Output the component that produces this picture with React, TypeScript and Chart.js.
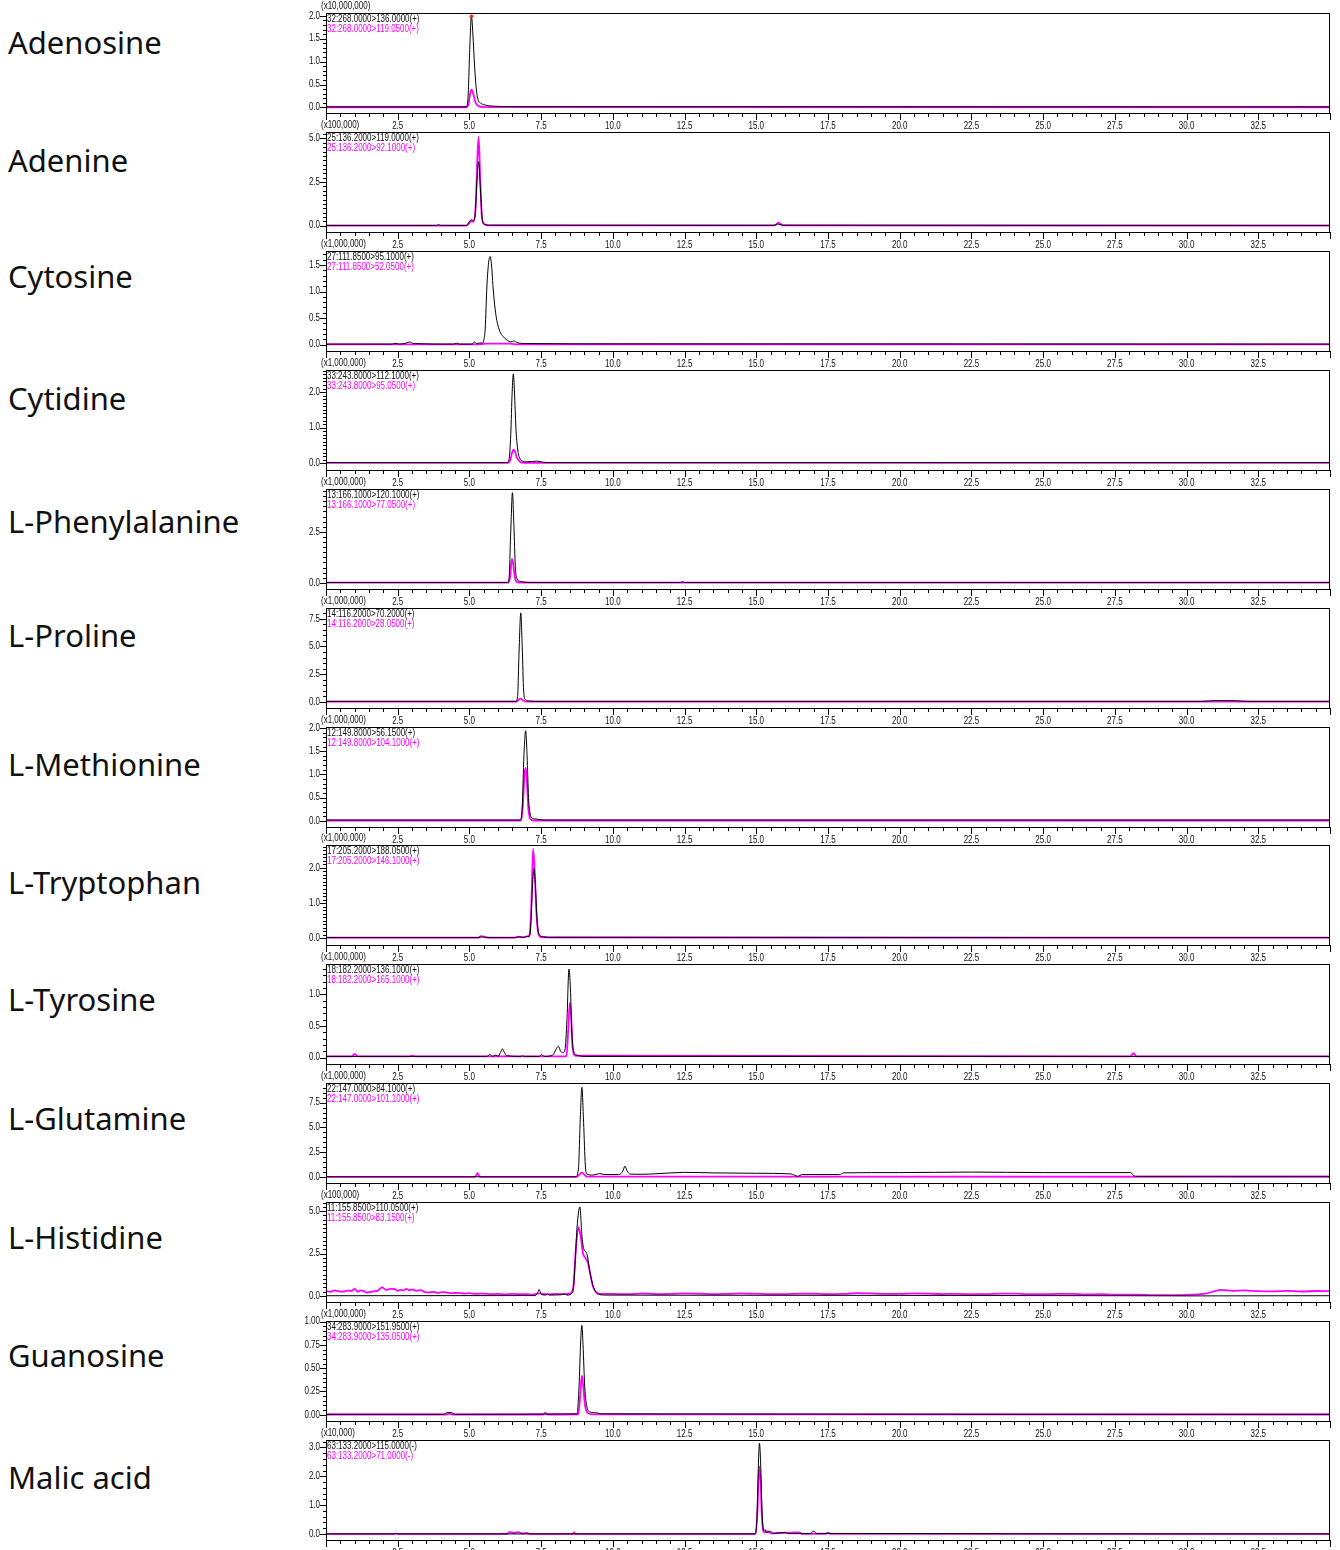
import React, { useEffect, useRef } from 'react';
import { Chart, registerables } from 'chart.js';

Chart.register(...registerables);

type P = [number, number];

// ---------- labels ----------
const compoundNames = [
  'Adenosine', 'Adenine', 'Cytosine', 'Cytidine', 'L-Phenylalanine', 'L-Proline', 'L-Methionine',
  'L-Tryptophan', 'L-Tyrosine', 'L-Glutamine', 'L-Histidine', 'Guanosine', 'Malic acid',
];
const multiplierLabels = [
  '(x10,000,000)', '(x100,000)', '(x1,000,000)', '(x1,000,000)', '(x1,000,000)', '(x1,000,000)',
  '(x1,000,000)', '(x1,000,000)', '(x1,000,000)', '(x1,000,000)', '(x100,000)', '(x1,000,000)', '(x10,000)',
];
const blackChannelLabels = [
  '32:268.0000>136.0000(+)', '25:136.2000>119.0000(+)', '27:111.8500>95.1000(+)', '33:243.8000>112.1000(+)',
  '13:166.1000>120.1000(+)', '14:116.2000>70.2000(+)', '12:149.8000>56.1500(+)', '17:205.2000>188.0500(+)',
  '18:182.2000>136.1000(+)', '22:147.0000>84.1000(+)', '11:155.8500>110.0500(+)', '34:283.9000>151.9500(+)',
  '63:133.2000>115.0000(-)',
];
const magentaChannelLabels = [
  '32:268.0000>119.0500(+)', '25:136.2000>92.1000(+)', '27:111.8500>52.0500(+)', '33:243.8000>95.0500(+)',
  '13:166.1000>77.0500(+)', '14:116.2000>28.0500(+)', '12:149.8000>104.1000(+)', '17:205.2000>146.1000(+)',
  '18:182.2000>165.1000(+)', '22:147.0000>101.1000(+)', '11:155.8500>83.1500(+)', '34:283.9000>135.0500(+)',
  '63:133.2000>71.0000(-)',
];

// ---------- axes ----------
const xMin = 0;
const xMax = 35;
const xMinorStep = 0.5;
const xMajorStep = 2.5;
const yMaxes = [2.06, 5.37, 1.764, 2.62, 4.6, 8.47, 2.02, 2.65, 1.48, 9.48, 5.54, 1.007, 3.26];
const yMins = [-0.12, -0.36, -0.12, -0.19, -0.3, -0.55, -0.13, -0.19, -0.1, -0.6, -0.36, -0.067, -0.21];
const yMajorSteps = [0.5, 2.5, 0.5, 1.0, 2.5, 2.5, 0.5, 1.0, 0.5, 2.5, 2.5, 0.25, 1.0];
const yMinorSteps = [0.1, 0.25, 0.1, 0.1, 0.25, 0.5, 0.1, 0.1, 0.1, 0.5, 0.25, 0.05, 0.2];
const yDecimals = [1, 1, 1, 1, 1, 1, 1, 1, 1, 1, 1, 2, 1];

// ---------- series (time [min], intensity in panel units) ----------
const adenosineBlack: P[] = [[0, 0.015], [4.88, 0.015], [4.95, 0.2], [5.01, 1.26], [5.07, 2.0], [5.12, 1.6], [5.18, 0.9], [5.24, 0.4], [5.3, 0.17], [5.4, 0.09], [5.5, 0.06], [5.8, 0.03], [6.5, 0.02], [35, 0.015]];
const adenosineMagenta: P[] = [[0, 0.005], [4.9, 0.005], [4.97, 0.08], [5.03, 0.32], [5.08, 0.39], [5.14, 0.28], [5.22, 0.1], [5.32, 0.03], [5.5, 0.01], [35, 0.005]];
const adenosinePeakMark: P[] = [[5.07, 1.99]];

const adenineBlack: P[] = [[0, 0.02], [3.85, 0.02], [3.92, 0.06], [4.0, 0.02], [4.9, 0.02], [4.98, 0.2], [5.06, 0.34], [5.14, 0.3], [5.2, 0.6], [5.26, 2.5], [5.32, 3.66], [5.38, 2.2], [5.44, 0.5], [5.52, 0.1], [5.7, 0.03], [15.6, 0.02], [15.75, 0.1], [15.9, 0.03], [35, 0.02]];
const adenineMagenta: P[] = [[0, 0.01], [4.9, 0.01], [5.0, 0.15], [5.06, 0.28], [5.14, 0.22], [5.22, 1.2], [5.28, 4.0], [5.32, 5.09], [5.37, 3.0], [5.43, 0.6], [5.5, 0.1], [5.7, 0.02], [15.65, 0.02], [15.78, 0.18], [15.92, 0.02], [35, 0.01]];

const cytosineBlack: P[] = [[0, 0.01], [2.3, 0.01], [2.4, 0.025], [2.55, 0.01], [2.8, 0.03], [2.92, 0.05], [3.05, 0.02], [4.45, 0.01], [4.55, 0.025], [4.65, 0.01], [5.1, 0.01], [5.17, 0.05], [5.25, 0.02], [5.35, 0.03], [5.45, 0.03], [5.5, 0.08], [5.55, 0.3], [5.61, 1.11], [5.67, 1.55], [5.72, 1.66], [5.77, 1.5], [5.82, 1.11], [5.88, 0.75], [5.94, 0.5], [6.06, 0.25], [6.18, 0.15], [6.3, 0.09], [6.45, 0.05], [6.55, 0.07], [6.65, 0.04], [7.0, 0.02], [10, 0.015], [35, 0.01]];
const cytosineMagenta: P[] = [[0, 0.005], [5.4, 0.005], [5.55, 0.02], [6.4, 0.02], [6.6, 0.005], [35, 0.005]];

const cytidineBlack: P[] = [[0, 0.02], [6.3, 0.02], [6.38, 0.1], [6.44, 0.8], [6.49, 2.0], [6.53, 2.51], [6.57, 2.0], [6.62, 1.0], [6.68, 0.4], [6.75, 0.15], [6.85, 0.06], [7.0, 0.04], [7.2, 0.05], [7.35, 0.06], [7.5, 0.04], [7.7, 0.02], [35, 0.02]];
const cytidineMagenta: P[] = [[0, 0.01], [6.35, 0.01], [6.42, 0.08], [6.48, 0.28], [6.54, 0.38], [6.6, 0.3], [6.66, 0.15], [6.75, 0.05], [6.9, 0.01], [35, 0.01]];

const phenylalanineBlack: P[] = [[0, 0.02], [6.32, 0.02], [6.38, 0.2], [6.44, 2.5], [6.5, 4.42], [6.55, 2.8], [6.6, 0.8], [6.66, 0.2], [6.75, 0.08], [6.9, 0.04], [7.2, 0.02], [12.35, 0.02], [12.42, 0.06], [12.5, 0.02], [35, 0.02]];
const phenylalanineMagenta: P[] = [[0, 0.01], [6.35, 0.01], [6.42, 0.3], [6.48, 1.17], [6.52, 1.0], [6.58, 0.3], [6.65, 0.05], [6.8, 0.01], [35, 0.01]];

const prolineBlack: P[] = [[0, 0.05], [6.62, 0.05], [6.68, 0.5], [6.73, 4.5], [6.79, 8.03], [6.84, 5.0], [6.89, 1.0], [6.95, 0.2], [7.1, 0.08], [7.5, 0.05], [30.5, 0.05], [31.0, 0.12], [31.8, 0.1], [32.2, 0.05], [35, 0.05]];
const prolineMagenta: P[] = [[0, 0.03], [6.65, 0.03], [6.72, 0.2], [6.79, 0.3], [6.86, 0.15], [6.95, 0.03], [35, 0.03]];

const methionineBlack: P[] = [[0, 0.02], [6.78, 0.02], [6.84, 0.3], [6.9, 1.4], [6.96, 1.94], [7.01, 1.4], [7.06, 0.5], [7.12, 0.15], [7.2, 0.06], [7.35, 0.04], [7.6, 0.02], [35, 0.02]];
const methionineMagenta: P[] = [[0, 0.01], [6.8, 0.01], [6.86, 0.3], [6.92, 1.0], [6.96, 1.14], [7.0, 0.9], [7.05, 0.3], [7.12, 0.05], [7.25, 0.01], [35, 0.01]];

const tryptophanBlack: P[] = [[0, 0.02], [5.3, 0.02], [5.45, 0.04], [5.6, 0.02], [6.6, 0.02], [6.75, 0.04], [6.9, 0.02], [7.0, 0.06], [7.08, 0.04], [7.14, 0.4], [7.2, 1.5], [7.25, 1.98], [7.3, 1.5], [7.36, 0.5], [7.42, 0.12], [7.55, 0.05], [7.8, 0.02], [35, 0.02]];
const tryptophanMagenta: P[] = [[0, 0.02], [5.3, 0.02], [5.4, 0.06], [5.55, 0.04], [5.65, 0.02], [6.6, 0.02], [6.7, 0.05], [6.85, 0.03], [7.0, 0.05], [7.1, 0.1], [7.16, 1.0], [7.22, 2.54], [7.27, 2.0], [7.33, 0.8], [7.4, 0.15], [7.5, 0.03], [35, 0.02]];

const tyrosineBlack: P[] = [[0, 0.02], [5.6, 0.02], [5.72, 0.05], [5.8, 0.02], [5.92, 0.04], [6.0, 0.02], [6.08, 0.08], [6.15, 0.14], [6.22, 0.08], [6.3, 0.03], [6.8, 0.02], [6.85, 0.03], [6.9, 0.02], [7.45, 0.02], [7.52, 0.05], [7.6, 0.02], [7.9, 0.04], [8.02, 0.13], [8.1, 0.18], [8.18, 0.1], [8.26, 0.08], [8.33, 0.12], [8.4, 0.6], [8.47, 1.4], [8.52, 1.1], [8.57, 0.4], [8.63, 0.1], [8.75, 0.04], [9.0, 0.02], [35, 0.02]];
const tyrosineMagenta: P[] = [[0, 0.02], [0.9, 0.02], [1.0, 0.06], [1.1, 0.02], [2.9, 0.02], [3.0, 0.03], [3.15, 0.02], [8.38, 0.02], [8.44, 0.4], [8.5, 0.87], [8.55, 0.6], [8.6, 0.15], [8.7, 0.03], [28.05, 0.02], [28.15, 0.07], [28.25, 0.02], [35, 0.02]];

const glutamineBlack: P[] = [[0, 0.03], [8.7, 0.03], [8.8, 0.8], [8.86, 5.5], [8.92, 9.05], [8.98, 5.5], [9.04, 1.2], [9.1, 0.3], [9.3, 0.2], [9.45, 0.3], [9.55, 0.35], [9.7, 0.25], [10.2, 0.25], [10.35, 0.6], [10.42, 1.1], [10.5, 0.6], [10.6, 0.3], [11, 0.28], [11.5, 0.33], [12.5, 0.47], [13.5, 0.42], [15, 0.38], [16.2, 0.32], [16.45, 0.07], [16.6, 0.25], [17.9, 0.25], [18.05, 0.42], [20, 0.45], [22.5, 0.5], [25, 0.45], [28.05, 0.45], [28.2, 0.07], [35, 0.07]];
const glutamineMagenta: P[] = [[0, 0.02], [5.2, 0.02], [5.28, 0.4], [5.36, 0.02], [8.75, 0.02], [8.85, 0.3], [8.92, 0.45], [9.0, 0.25], [9.1, 0.04], [35, 0.03]];

const histidineBlack: P[] = [[0, 0.01], [7.3, 0.02], [7.38, 0.2], [7.43, 0.38], [7.5, 0.1], [7.65, 0.05], [7.72, 0.12], [7.8, 0.05], [8.2, 0.07], [8.3, 0.12], [8.4, 0.05], [8.6, 0.2], [8.67, 1.5], [8.75, 4.0], [8.85, 5.25], [8.92, 3.6], [8.98, 2.8], [9.06, 2.6], [9.12, 2.3], [9.19, 1.5], [9.25, 1.0], [9.31, 0.58], [9.4, 0.25], [9.5, 0.1], [9.7, 0.05], [12, 0.04], [20, 0.03], [28, 0.01], [30, 0.0], [35, 0.01]];
const histidineMagenta: P[] = [[0, 0.28], [0.15, 0.24], [0.3, 0.32], [0.45, 0.27], [0.6, 0.25], [0.75, 0.31], [0.9, 0.3], [1.0, 0.42], [1.1, 0.25], [1.2, 0.33], [1.3, 0.3], [1.4, 0.2], [1.5, 0.22], [1.65, 0.27], [1.8, 0.3], [1.95, 0.5], [2.1, 0.35], [2.25, 0.42], [2.4, 0.4], [2.5, 0.3], [2.6, 0.36], [2.7, 0.32], [2.8, 0.42], [2.9, 0.33], [3.0, 0.38], [3.15, 0.3], [3.3, 0.34], [3.45, 0.22], [3.6, 0.2], [3.75, 0.24], [3.9, 0.18], [4.05, 0.22], [4.2, 0.2], [4.4, 0.16], [4.6, 0.18], [4.8, 0.14], [5.0, 0.16], [5.25, 0.12], [5.5, 0.14], [5.75, 0.1], [6.0, 0.12], [6.25, 0.09], [6.5, 0.12], [6.75, 0.1], [7.0, 0.11], [7.2, 0.08], [7.43, 0.15], [7.7, 0.09], [8.0, 0.12], [8.3, 0.1], [8.5, 0.15], [8.62, 0.5], [8.7, 2.5], [8.8, 4.05], [8.88, 3.5], [8.96, 2.5], [9.06, 2.2], [9.14, 1.9], [9.2, 1.4], [9.3, 0.6], [9.4, 0.25], [9.55, 0.12], [10, 0.12], [10.5, 0.1], [11, 0.15], [11.5, 0.11], [12, 0.12], [12.5, 0.15], [13, 0.14], [13.5, 0.1], [14, 0.12], [14.5, 0.15], [15, 0.13], [15.5, 0.1], [16, 0.11], [16.5, 0.14], [17, 0.14], [17.5, 0.11], [18, 0.12], [18.5, 0.16], [19, 0.15], [19.5, 0.12], [20, 0.12], [20.5, 0.15], [21, 0.14], [21.5, 0.11], [22, 0.12], [22.5, 0.1], [23, 0.1], [23.5, 0.13], [24, 0.13], [24.5, 0.1], [25, 0.1], [25.5, 0.12], [26, 0.12], [26.5, 0.09], [27, 0.1], [27.5, 0.08], [28, 0.08], [28.5, 0.06], [29, 0.05], [29.5, 0.05], [30, 0.06], [30.7, 0.15], [31.2, 0.35], [31.6, 0.3], [32, 0.32], [32.5, 0.28], [33, 0.27], [33.5, 0.3], [34, 0.26], [34.5, 0.29], [35, 0.28]];

const guanosineBlack: P[] = [[0, 0.005], [4.1, 0.005], [4.25, 0.025], [4.4, 0.02], [4.5, 0.005], [8.75, 0.01], [8.82, 0.3], [8.88, 0.8], [8.92, 0.96], [8.96, 0.75], [9.02, 0.3], [9.1, 0.08], [9.2, 0.03], [9.45, 0.02], [9.6, 0.01], [35, 0.005]];
const guanosineMagenta: P[] = [[0, 0.003], [4.2, 0.003], [4.3, 0.012], [4.4, 0.003], [7.58, 0.003], [7.65, 0.02], [7.72, 0.003], [8.8, 0.005], [8.86, 0.2], [8.92, 0.42], [8.97, 0.3], [9.03, 0.1], [9.12, 0.02], [9.3, 0.005], [35, 0.003]];

const malicBlack: P[] = [[0, 0.0], [2.4, 0.0], [2.45, 0.03], [2.5, 0.0], [14.95, 0.0], [15.02, 0.5], [15.08, 2.6], [15.11, 3.15], [15.15, 2.5], [15.2, 0.8], [15.26, 0.1], [15.3, 0.15], [15.36, 0.05], [15.5, 0.08], [15.6, 0.02], [16.0, 0.06], [16.1, 0.01], [16.9, 0.02], [17.0, 0.1], [17.1, 0.02], [35, 0.0]];
const malicMagenta: P[] = [[0, 0.0], [6.3, 0.0], [6.4, 0.06], [6.55, 0.04], [6.7, 0.06], [6.85, 0.02], [7.0, 0.04], [7.1, 0.0], [8.6, 0.0], [8.65, 0.05], [8.7, 0.0], [14.98, 0.0], [15.04, 0.8], [15.1, 2.35], [15.15, 1.8], [15.2, 0.5], [15.28, 0.05], [15.4, 0.1], [15.5, 0.02], [16.5, 0.05], [16.6, 0.0], [17.4, 0.0], [17.5, 0.04], [17.6, 0.0], [35, 0.0]];

const blackSeries: P[][] = [adenosineBlack, adenineBlack, cytosineBlack, cytidineBlack, phenylalanineBlack, prolineBlack, methionineBlack, tryptophanBlack, tyrosineBlack, glutamineBlack, histidineBlack, guanosineBlack, malicBlack];
const magentaSeries: P[][] = [adenosineMagenta, adenineMagenta, cytosineMagenta, cytidineMagenta, phenylalanineMagenta, prolineMagenta, methionineMagenta, tryptophanMagenta, tyrosineMagenta, glutamineMagenta, histidineMagenta, guanosineMagenta, malicMagenta];
const peakMarks: P[][] = [adenosinePeakMark, [], [], [], [], [], [], [], [], [], [], [], []];

// ---------- layout ----------
const PAGE_W = 1340;
const PAGE_H = 1550;
const FIRST_BOX_TOP = 13;
const PANEL_PITCH = 118.92;
const PAD_TOP = 13;
const BOX_H = 100;
const X_AXIS_H = 22;
const CANVAS_H = PAD_TOP + BOX_H + X_AXIS_H;
const PLOT_LEFT = 326;
const PLOT_RIGHT_PAD = 10;
const SMALL_FONT = "10px 'Liberation Sans', Arial, sans-serif";
const NARROW = 0.8;
const NAME_CENTERS = [42, 160, 276, 398, 521, 635, 764, 882, 999, 1118, 1237, 1355, 1477];

const toXY = (arr: P[]) => arr.map(([x, y]) => ({ x, y }));
const isMult = (v: number, step: number) => Math.abs(v / step - Math.round(v / step)) < 1e-6;

function narrowText(ctx: CanvasRenderingContext2D, text: string, x: number, y: number, align: CanvasTextAlign) {
  ctx.save();
  ctx.translate(x, y);
  ctx.scale(NARROW, 1);
  ctx.textAlign = align;
  ctx.fillText(text, 0, 0);
  ctx.restore();
}

function makeConfig(i: number): any {
  const minor = yMinorSteps[i];
  const major = yMajorSteps[i];
  const nY = Math.floor(yMaxes[i] / minor + 1e-6);
  const yTickValues: number[] = [];
  for (let k = 0; k <= nY; k++) yTickValues.push(+(k * minor).toFixed(6));
  const nX = Math.round((xMax - xMin) / xMinorStep);
  const xTickValues: number[] = [];
  for (let k = 0; k <= nX; k++) xTickValues.push(+(xMin + k * xMinorStep).toFixed(6));

  const framePlugin = {
    id: 'frame' + i,
    afterDraw(chart: any) {
      const { ctx, chartArea: a, scales } = chart;
      const xs = scales.x;
      const ys = scales.y;
      const L = Math.round(a.left);
      const T = Math.round(a.top);
      const B = Math.round(a.bottom);
      const R = Math.round(a.right);
      ctx.save();
      ctx.strokeStyle = '#000';
      ctx.lineWidth = 1;
      ctx.strokeRect(L + 0.5, T + 0.5, R - L - 1, B - T);
      ctx.beginPath();
      for (const v of xTickValues) {
        const px = Math.round(xs.getPixelForValue(v)) + 0.5;
        const len = isMult(v, xMajorStep) ? 7 : 4;
        ctx.moveTo(px, B);
        ctx.lineTo(px, B + len);
      }
      for (const v of yTickValues) {
        const py = Math.round(ys.getPixelForValue(v)) + 0.5;
        const len = isMult(v, major) ? 6 : 3;
        ctx.moveTo(L - len, py);
        ctx.lineTo(L, py);
      }
      ctx.stroke();

      ctx.font = SMALL_FONT;
      ctx.textBaseline = 'middle';
      ctx.fillStyle = '#111';
      for (const v of xTickValues) {
        if (isMult(v, xMajorStep) && v > xMin && v < xMax) {
          narrowText(ctx, v.toFixed(1), xs.getPixelForValue(v), B + 13.5, 'center');
        }
      }
      for (const v of yTickValues) {
        if (isMult(v, major)) {
          narrowText(ctx, v.toFixed(yDecimals[i]), L - 6, ys.getPixelForValue(v), 'right');
        }
      }
      narrowText(ctx, multiplierLabels[i], L - 5, T - 6.5, 'left');
      narrowText(ctx, blackChannelLabels[i], L + 1, T + 6, 'left');
      ctx.fillStyle = '#ff00ff';
      narrowText(ctx, magentaChannelLabels[i], L + 1, T + 16.5, 'left');
      ctx.restore();
    },
  };

  const datasets: any[] = [
    {
      label: blackChannelLabels[i],
      data: toXY(blackSeries[i]),
      borderColor: '#000000',
      borderWidth: 1.0,
      pointRadius: 0,
      cubicInterpolationMode: 'monotone',
    },
    {
      label: magentaChannelLabels[i],
      data: toXY(magentaSeries[i]),
      borderColor: '#ff00ff',
      borderWidth: 1.8,
      pointRadius: 0,
      cubicInterpolationMode: 'monotone',
    },
  ];
  if (peakMarks[i].length) {
    datasets.unshift({
      label: 'peak',
      data: toXY(peakMarks[i]),
      showLine: false,
      pointRadius: 1.8,
      pointBackgroundColor: '#ff2020',
      pointBorderWidth: 0,
      borderColor: '#ff2020',
    });
  }

  return {
    type: 'line',
    data: { datasets },
    options: {
      animation: false,
      responsive: false,
      devicePixelRatio: 1,
      events: [],
      layout: { padding: { top: PAD_TOP, right: PLOT_RIGHT_PAD, left: 0, bottom: 0 } },
      plugins: { legend: { display: false }, tooltip: { enabled: false }, title: { display: false } },
      scales: {
        x: {
          type: 'linear',
          min: xMin,
          max: xMax,
          grid: { display: false, drawTicks: false },
          border: { display: false },
          afterBuildTicks: (s: any) => { s.ticks = xTickValues.map((value) => ({ value })); },
          afterFit: (s: any) => { s.height = X_AXIS_H; },
          ticks: { display: false, autoSkip: false, maxRotation: 0, minRotation: 0 },
        },
        y: {
          type: 'linear',
          min: yMins[i],
          max: yMaxes[i],
          grid: { display: false, drawTicks: false },
          border: { display: false },
          afterBuildTicks: (s: any) => { s.ticks = yTickValues.map((value) => ({ value })); },
          afterFit: (s: any) => { s.width = PLOT_LEFT; },
          ticks: { display: false, autoSkip: false },
        },
      },
    },
    plugins: [framePlugin],
  };
}

function Panel({ index }: { index: number }) {
  const ref = useRef<HTMLCanvasElement | null>(null);
  const boxTop = Math.round(FIRST_BOX_TOP + index * PANEL_PITCH);
  useEffect(() => {
    if (!ref.current) return;
    const chart = new Chart(ref.current, makeConfig(index));
    return () => chart.destroy();
  }, [index]);
  return (
    <canvas
      ref={ref}
      width={PAGE_W}
      height={CANVAS_H}
      style={{ position: 'absolute', left: 0, top: boxTop - PAD_TOP, width: PAGE_W, height: CANVAS_H }}
    />
  );
}

export default function App() {
  return (
    <div style={{ position: 'absolute', left: 0, top: 0, width: PAGE_W, height: PAGE_H, background: '#fff', overflow: 'hidden' }}>
      {compoundNames.map((name, i) => (
        <div
          key={'n' + i}
          style={{
            position: 'absolute',
            left: 8,
            top: NAME_CENTERS[i],
            transform: 'translateY(-50%)',
            fontFamily: "'Noto Sans', sans-serif",
            fontSize: 31,
            lineHeight: '40px',
            color: '#111',
            whiteSpace: 'nowrap',
          }}
        >
          {name}
        </div>
      ))}
      {compoundNames.map((_, i) => (
        <Panel key={'p' + i} index={i} />
      ))}
    </div>
  );
}
